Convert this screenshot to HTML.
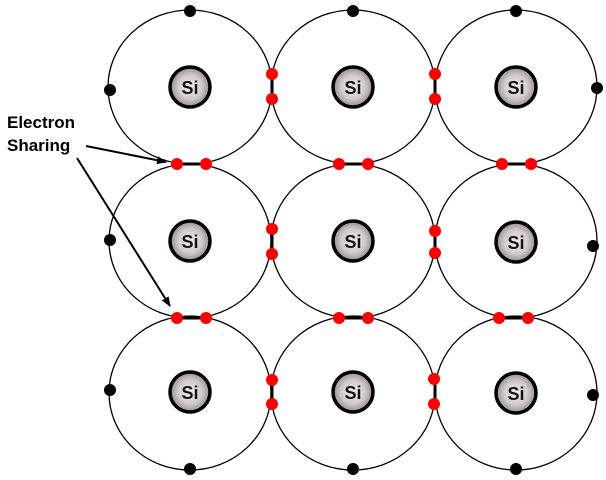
<!DOCTYPE html>
<html><head><meta charset="utf-8"><style>
html,body{margin:0;padding:0;background:#fff;}
svg{display:block;}
</style></head><body>
<svg width="606" height="480" viewBox="0 0 606 480" xmlns="http://www.w3.org/2000/svg">
<defs>
<radialGradient id="g" cx="50%" cy="50%" r="50%">
<stop offset="0%" stop-color="#f2eeee"/><stop offset="60%" stop-color="#d0c9c9"/><stop offset="100%" stop-color="#958d8d"/>
</radialGradient>
<marker id="ar" markerWidth="10" markerHeight="8" refX="9" refY="4" orient="auto" markerUnits="userSpaceOnUse">
<path d="M0,0 L10,4 L0,8 z" fill="#000"/></marker>
</defs>
<g fill="none" stroke="#000" stroke-width="1.3">
<ellipse cx="190" cy="87" rx="82" ry="77"/><ellipse cx="353" cy="87" rx="82" ry="77"/><ellipse cx="516" cy="87" rx="81" ry="77"/>
<ellipse cx="190" cy="241" rx="81" ry="77"/><ellipse cx="353" cy="241" rx="82" ry="77"/><ellipse cx="516" cy="241" rx="81" ry="77"/>
<ellipse cx="190" cy="393" rx="81" ry="77"/><ellipse cx="353" cy="393" rx="82" ry="77"/><ellipse cx="516" cy="393" rx="81" ry="77"/>
</g>
<g stroke="#000" stroke-width="3">
<line x1="272" y1="74" x2="272" y2="99"/><line x1="435" y1="74" x2="435" y2="99"/>
<line x1="272" y1="229" x2="272" y2="254"/><line x1="435" y1="229" x2="435" y2="254"/>
<line x1="272" y1="380" x2="272" y2="404"/><line x1="435" y1="380" x2="435" y2="404"/>
<line x1="177" y1="164" x2="206" y2="164"/><line x1="339" y1="164" x2="368" y2="164"/><line x1="502" y1="164" x2="531" y2="164"/>
<line x1="177" y1="318" x2="206" y2="318"/><line x1="339" y1="318" x2="368" y2="318"/><line x1="500" y1="318" x2="528" y2="318"/>
</g>
<g fill="#f00">
<circle cx="272" cy="74" r="6"/><circle cx="272" cy="99" r="6"/><circle cx="435" cy="74" r="6"/><circle cx="435" cy="99" r="6"/>
<circle cx="272" cy="229" r="6"/><circle cx="272" cy="254" r="6"/><circle cx="435" cy="231" r="6"/><circle cx="435" cy="253" r="6"/>
<circle cx="272" cy="380" r="6"/><circle cx="272" cy="404" r="6"/><circle cx="434" cy="379" r="6"/><circle cx="434" cy="404" r="6"/>
<circle cx="177" cy="164" r="6"/><circle cx="206" cy="164" r="6"/><circle cx="339" cy="164" r="6"/><circle cx="368" cy="164" r="6"/><circle cx="502" cy="164" r="6"/><circle cx="531" cy="164" r="6"/>
<circle cx="177" cy="318" r="6"/><circle cx="206" cy="318" r="6"/><circle cx="339" cy="318" r="6"/><circle cx="368" cy="318" r="6"/><circle cx="499" cy="318" r="6"/><circle cx="528" cy="318" r="6"/>
</g>
<g fill="#000">
<circle cx="190" cy="11" r="6"/><circle cx="353" cy="11" r="6"/><circle cx="516" cy="11" r="6"/>
<circle cx="110" cy="90" r="6"/><circle cx="597" cy="88" r="6"/>
<circle cx="110" cy="240" r="6"/><circle cx="593" cy="246" r="6"/>
<circle cx="110" cy="390" r="6"/><circle cx="593" cy="395" r="6"/>
<circle cx="190" cy="469" r="6"/><circle cx="353" cy="469" r="6"/><circle cx="516" cy="469" r="6"/>
</g>
<g stroke="#000" stroke-width="3.5" fill="url(#g)">
<circle cx="190" cy="87" r="20"/><circle cx="353" cy="87" r="20"/><circle cx="516" cy="87" r="20"/>
<circle cx="190" cy="241" r="20"/><circle cx="353" cy="241" r="20"/><circle cx="516" cy="242" r="20"/>
<circle cx="190" cy="392" r="20"/><circle cx="353" cy="392" r="20"/><circle cx="516" cy="393" r="20"/>
</g>
<g font-family="Liberation Sans, sans-serif" font-weight="bold" font-size="18" text-anchor="middle" fill="#111">
<text x="190" y="94">Si</text><text x="353" y="94">Si</text><text x="516" y="94">Si</text>
<text x="190" y="248">Si</text><text x="353" y="248">Si</text><text x="516" y="249">Si</text>
<text x="190" y="399">Si</text><text x="353" y="399">Si</text><text x="516" y="400">Si</text>
</g>
<g font-family="Liberation Sans, sans-serif" font-weight="bold" font-size="17" fill="#000">
<text x="7" y="128">Electron</text><text x="7" y="151">Sharing</text>
</g>
<g stroke="#000" stroke-width="2" marker-end="url(#ar)">
<line x1="86" y1="146" x2="166" y2="162"/>
<line x1="77" y1="158" x2="170" y2="306"/>
</g>
</svg>
</body></html>
